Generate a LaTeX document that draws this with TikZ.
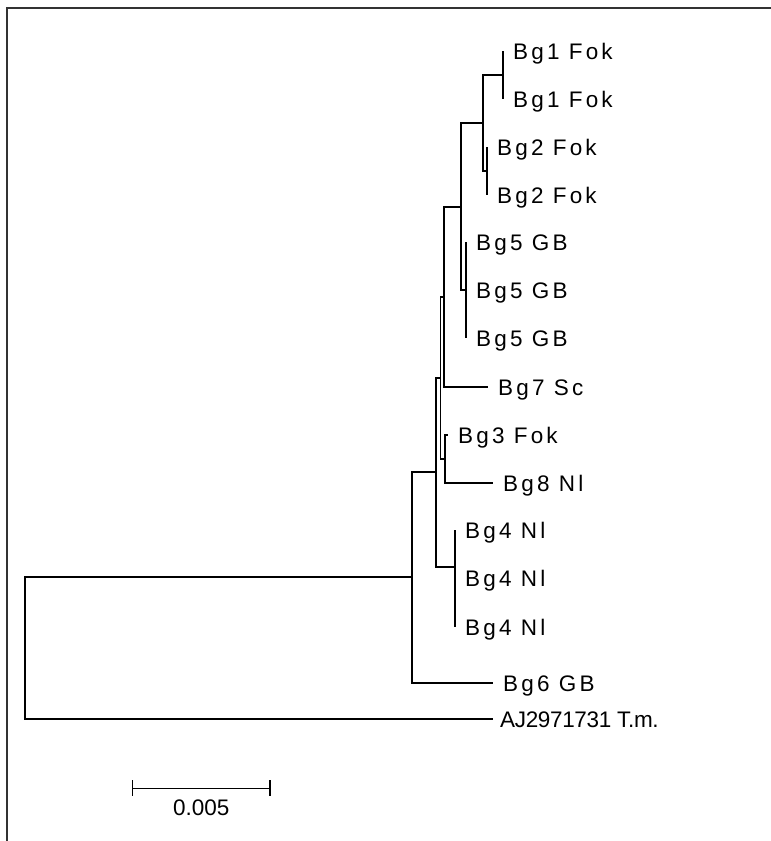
\documentclass[tikz,border=0pt]{standalone}
\usepackage{fontspec}
\setmainfont{Liberation Sans}
\newfontfamily\bgfont{Liberation Sans}[LetterSpace=14]
\newfontfamily\ajfont{Liberation Sans}[LetterSpace=-1.5]
\begin{document}
\begin{tikzpicture}[x=1pt,y=-1pt,
  br/.style={line width=1.4pt, black},
  frame/.style={line width=1.6pt, black!80},
  lab/.style={anchor=base west, inner sep=0pt, font=\bgfont\fontsize{22.5}{22.5}\selectfont},
  ajlab/.style={anchor=base west, inner sep=0pt, font=\ajfont\fontsize{22.5}{22.5}\selectfont}]
\useasboundingbox (0,0) rectangle (771,841);
% frame
\coordinate (fc) at (7,8);
\coordinate (fr) at (771,8);
\coordinate (fb) at (7,841);
\draw[frame] (fr) -- (fc) -- (fb);
% internal nodes
\coordinate (root) at (25,648);
\coordinate (H) at (412,577);
\coordinate (F) at (436,472);
\coordinate (E) at (440.7,378);
\coordinate (C) at (444,297);
\coordinate (B) at (461,207);
\coordinate (A) at (483,123);
\coordinate (N1) at (503,75);
\coordinate (N2) at (487,171);
\coordinate (N5) at (466,290);
\coordinate (D) at (445,459);
\coordinate (G) at (455,567);
% leaves
\coordinate (l1a) at (503,51);
\coordinate (l1b) at (503,99);
\coordinate (l2a) at (487,147);
\coordinate (l2b) at (487,195);
\coordinate (l5a) at (466,242);
\coordinate (l5b) at (466,290);
\coordinate (l5c) at (466,338);
\coordinate (l7) at (488,387);
\coordinate (l3) at (448,435);
\coordinate (l8) at (493,483);
\coordinate (l4a) at (455,530);
\coordinate (l4b) at (455,578);
\coordinate (l4c) at (455,627);
\coordinate (l6) at (493,683);
\coordinate (og) at (493,719);
% branches
\draw[br] (root) |- (H);
\draw[br] (root) |- (og);
\draw[br] (H) |- (F);
\draw[br] (H) |- (l6);
\draw[br] (F) |- (E);
\draw[br] (F) |- (G);
\draw[br] (E) |- (C);
\draw[br] (E) |- (D);
\draw[br] (C) |- (B);
\draw[br] (C) |- (l7);
\draw[br] (B) |- (A);
\draw[br] (B) |- (N5);
\draw[br] (A) |- (N1);
\draw[br] (A) |- (N2);
\draw[br] (N1) -- (l1a);
\draw[br] (N1) -- (l1b);
\draw[br] (N2) -- (l2a);
\draw[br] (N2) -- (l2b);
\draw[br] (N5) -- (l5a);
\draw[br] (N5) -- (l5c);
\draw[br] (D) |- (l3);
\draw[br] (D) |- (l8);
\draw[br] (G) -- (l4a);
\draw[br] (G) -- (l4c);
% labels
\node[lab] (t1a) at ([xshift=10pt,yshift=-8pt]l1a) {Bg1 Fok};
\node[lab] (t1b) at ([xshift=10pt,yshift=-8pt]l1b) {Bg1 Fok};
\node[lab] (t2a) at ([xshift=10pt,yshift=-8pt]l2a) {Bg2 Fok};
\node[lab] (t2b) at ([xshift=10pt,yshift=-8pt]l2b) {Bg2 Fok};
\node[lab] (t5a) at ([xshift=10pt,yshift=-8pt]l5a) {Bg5 GB};
\node[lab] (t5b) at ([xshift=10pt,yshift=-8pt]l5b) {Bg5 GB};
\node[lab] (t5c) at ([xshift=10pt,yshift=-8pt]l5c) {Bg5 GB};
\node[lab] (t7) at ([xshift=10pt,yshift=-8pt]l7) {Bg7 Sc};
\node[lab] (t3) at ([xshift=10pt,yshift=-8pt]l3) {Bg3 Fok};
\node[lab] (t8) at ([xshift=10pt,yshift=-8pt]l8) {Bg8 Nl};
\node[lab] (t4a) at ([xshift=10pt,yshift=-8pt]l4a) {Bg4 Nl};
\node[lab] (t4b) at ([xshift=10pt,yshift=-8pt]l4b) {Bg4 Nl};
\node[lab] (t4c) at ([xshift=10pt,yshift=-8pt]l4c) {Bg4 Nl};
\node[lab] (t6) at ([xshift=10pt,yshift=-8pt]l6) {Bg6 GB};
\node[ajlab] (tog) at ([xshift=7pt,yshift=-8pt]og) {AJ2971731 T.m.};
% scale bar
\coordinate (sbl) at (132.7,788.3);
\coordinate (sbr) at (270,788.3);
\draw[br] (sbl) -- (sbr);
\draw[br] ([yshift=8pt]sbl) -- ([yshift=-8pt]sbl);
\draw[br] ([yshift=8pt]sbr) -- ([yshift=-8pt]sbr);
\node[anchor=base, inner sep=0pt, font=\fontsize{22.5}{22.5}\selectfont] (sbt) at (201.3,815) {0.005};
\end{tikzpicture}
\end{document}
